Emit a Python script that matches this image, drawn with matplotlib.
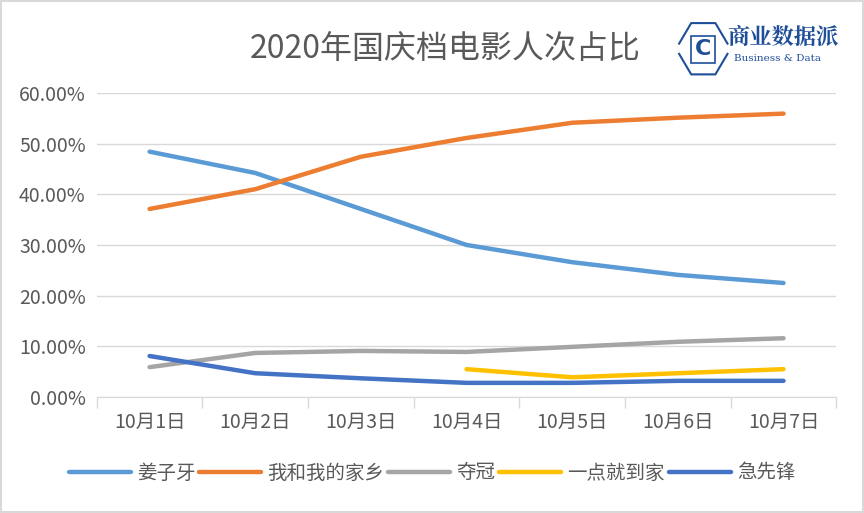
import numpy as np
import matplotlib
matplotlib.use('Agg')
import matplotlib.pyplot as plt
from matplotlib.patches import Rectangle
from matplotlib.ticker import PercentFormatter

plt.rcParams['font.family'] = ['Noto Sans CJK SC', 'DejaVu Sans']

days = ['10月1日', '10月2日', '10月3日', '10月4日', '10月5日', '10月6日', '10月7日']
names = ['姜子牙', '我和我的家乡', '夺冠', '一点就到家', '急先锋']
jiangziya = [48.4, 44.2, 37.1, 30.0, 26.6, 24.1, 22.5]
jiaxiang = [37.1, 41.0, 47.4, 51.1, 54.1, 55.1, 55.9]
duoguan = [5.9, 8.7, 9.1, 8.9, 9.9, 10.9, 11.6]
yidian = [np.nan, np.nan, np.nan, 5.5, 3.9, 4.7, 5.5]
jixianfeng = [8.1, 4.7, 3.7, 2.8, 2.8, 3.2, 3.2]
colors = ['#5B9BD5', '#ED7D31', '#A5A5A5', '#FFC000', '#4472C4']

series = [jiangziya, jiaxiang, duoguan, yidian, jixianfeng]

fig = plt.figure(figsize=(8.64, 5.13), dpi=100)
ax = fig.add_axes([0.112, 0.226, 0.856, 0.593])

x = np.arange(len(days))
for vals, name, c in zip(series, names, colors):
	ax.plot(x, np.array(vals) / 100, color=c, lw=3.2, label=name,
			solid_capstyle='round', solid_joinstyle='round')

ax.set_ylim(0, 0.6)
ax.set_yticks(np.arange(0, 0.61, 0.1))
ax.yaxis.set_major_formatter(PercentFormatter(1.0, decimals=2))
ax.set_xlim(-0.5, len(days) - 0.5)
ax.set_xticks(x)
ax.set_xticklabels(days)
ax.set_xticks(np.arange(-0.5, len(days)), minor=True)
ax.tick_params(axis='x', which='major', length=0, pad=11, labelsize=14, labelcolor='#595959')
ax.tick_params(axis='x', which='minor', length=8, color='#D9D9D9', width=1)
ax.tick_params(axis='y', length=0, pad=8, labelsize=14, labelcolor='#595959')

ax.grid(axis='y', color='#D9D9D9', lw=1)
ax.set_axisbelow(True)
for s in ['top', 'right', 'left']:
	ax.spines[s].set_visible(False)
ax.spines['bottom'].set_color('#D9D9D9')

fig.text(0.515, 0.905, '2020年国庆档电影人次占比', ha='center', va='center',
		 fontsize=23, color='#595959')

leg = fig.legend(loc='center', bbox_to_anchor=(0.50, 0.078), ncol=5, frameon=False,
				 fontsize=14, handlelength=3.2, handletextpad=0.3, columnspacing=0.2)
for t in leg.get_texts():
	t.set_color('#595959')

# logo
navy = '#1F4E99'
fig.add_artist(plt.Line2D([0.786, 0.800, 0.828, 0.842], [0.915, 0.955, 0.955, 0.915],
						  color=navy, lw=1.5, transform=fig.transFigure))
fig.add_artist(plt.Line2D([0.786, 0.800, 0.828, 0.842], [0.895, 0.855, 0.855, 0.895],
						  color=navy, lw=1.5, transform=fig.transFigure))
fig.add_artist(Rectangle((0.800, 0.878), 0.028, 0.052, fill=False, ec=navy, lw=1.2,
						 transform=fig.transFigure))
fig.text(0.814, 0.905, 'C', ha='center', va='center', fontsize=16, color=navy,
		 fontweight='bold', family='DejaVu Sans')
fig.text(0.842, 0.927, '商业数据派', ha='left', va='center', fontsize=16, color=navy,
		 fontweight='bold', family=['Noto Serif CJK SC', 'Noto Sans CJK SC'])
fig.text(0.849, 0.886, 'Business & Data', ha='left', va='center', fontsize=7.5,
		 color=navy, family='DejaVu Serif')

fig.add_artist(Rectangle((0.001, 0.001), 0.998, 0.997, fill=False, ec='#D9D9D9', lw=1.5,
						 transform=fig.transFigure))

fig.savefig('out.png', dpi=100)
